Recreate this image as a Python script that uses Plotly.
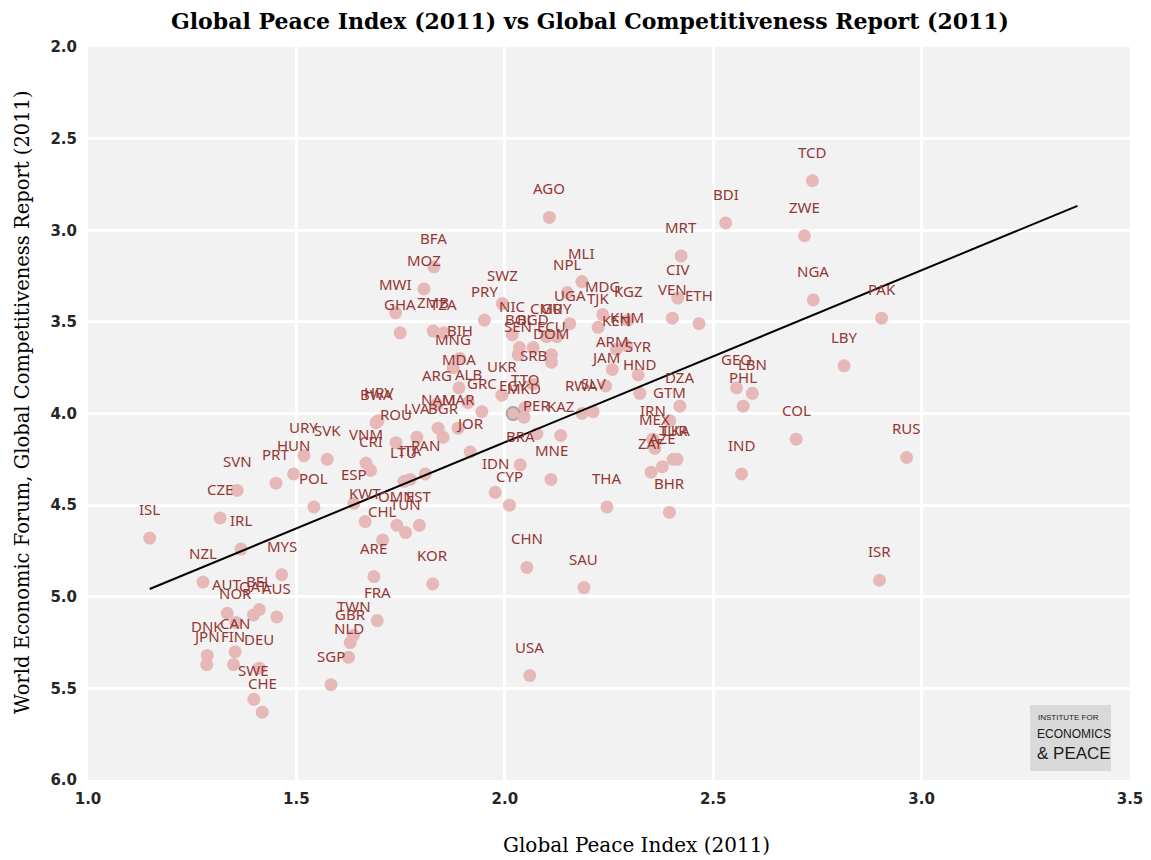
import numpy as np
import plotly.graph_objects as go

countries = ["ISL","SVN","CZE","IRL","NZL","MYS","AUT","QAT","BEL","AUS","NOR","DNK","JPN","CAN","FIN","DEU","SWE","CHE",
             "URY","SVK","HUN","PRT","POL","VNM","CRI","ROU","HRV","BWA","LVA","BGR","NAM","MAR","JOR","LTU","ITA","PAN",
             "ESP","KWT","OMN","EST","TUN","CHL","ARE","KOR","FRA","TWN","GBR","NLD","SGP",
             "BFA","MOZ","MWI","GHA","ZMB","TZA","PRY","SWZ","BIH","MNG","MDA","ARG","ALB","GRC","UKR",
             "AGO","MLI","NPL","MDG","KGZ","UGA","TJK","NIC","CMR","GUY","BOL","BGD","ECU","SEN","DOM","SRB",
             "KEN","KHM","ARM","SYR","JAM","HND","DZA","GTM","TTO","EGY","MKD","RWA","SLV","PER","KAZ",
             "BRA","IDN","CYP","MNE","THA","IRN","MEX","ZAF","AZE","TUR","LKA","BHR",
             "GEO","LBN","PHL","IND","COL","LBY","RUS","ISR","PAK","TCD","BDI","ZWE","NGA","MRT","CIV","VEN","ETH",
             "CHN","SAU","USA"]

gpi = [1.148,1.358,1.317,1.367,1.276,1.465,1.334,1.397,1.411,1.453,1.355,1.286,1.285,1.353,1.349,1.411,1.398,1.418,
       1.518,1.574,1.493,1.451,1.542,1.667,1.678,1.739,1.696,1.691,1.789,1.852,1.840,1.888,1.917,1.758,1.773,1.809,
       1.638,1.665,1.741,1.795,1.762,1.707,1.686,1.827,1.694,1.637,1.629,1.625,1.583,
       1.830,1.806,1.738,1.749,1.828,1.854,1.951,1.994,1.892,1.876,1.890,1.837,1.912,1.945,1.993,
       2.107,2.185,2.150,2.235,2.296,2.156,2.224,2.018,2.100,2.125,2.035,2.068,2.112,2.032,2.112,2.068,
       2.268,2.292,2.258,2.320,2.242,2.324,2.420,2.396,2.048,2.020,2.046,2.185,2.212,2.077,2.134,
       2.037,1.977,2.011,2.111,2.245,2.355,2.360,2.351,2.378,2.404,2.413,2.395,
       2.556,2.594,2.572,2.568,2.699,2.814,2.964,2.899,2.904,2.738,2.530,2.719,2.740,2.423,2.415,2.402,2.466,
       2.053,2.190,2.060]

gci = [4.68,4.42,4.57,4.74,4.92,4.88,5.09,5.10,5.07,5.11,5.14,5.32,5.37,5.30,5.37,5.39,5.56,5.63,
       4.23,4.25,4.33,4.38,4.51,4.27,4.31,4.16,4.04,4.05,4.13,4.13,4.08,4.08,4.21,4.37,4.36,4.33,
       4.49,4.59,4.61,4.61,4.65,4.69,4.89,4.93,5.13,5.21,5.25,5.33,5.48,
       3.20,3.32,3.45,3.56,3.55,3.56,3.49,3.40,3.70,3.75,3.86,3.95,3.94,3.99,3.90,
       2.93,3.28,3.34,3.46,3.49,3.51,3.53,3.57,3.58,3.58,3.64,3.64,3.68,3.68,3.72,3.84,
       3.65,3.63,3.76,3.79,3.85,3.89,3.96,4.04,3.97,4.00,4.02,4.00,3.99,4.11,4.12,
       4.28,4.43,4.50,4.36,4.51,4.14,4.19,4.32,4.29,4.25,4.25,4.54,
       3.86,3.89,3.96,4.33,4.14,3.74,4.24,4.91,3.48,2.73,2.96,3.03,3.38,3.14,3.37,3.48,3.51,
       4.84,4.95,5.43]

x_tick_vals = [1.0, 1.5, 2.0, 2.5, 3.0, 3.5]
y_tick_vals = [2.0, 2.5, 3.0, 3.5, 4.0, 4.5, 5.0, 5.5, 6.0]
highlighted = ["EGY"]

title_text = "Global Peace Index (2011) vs Global Competitiveness Report (2011)"
x_title = "Global Peace Index (2011)"
y_title = "World Economic Forum, Global Competitiveness Report (2011)"

MARKER = "#E6B9B8"
LABEL = "#953735"
SERIF = "DejaVu Serif"

slope, intercept = np.polyfit(gpi, gci, 1)
x_line = np.array([min(gpi), max(gpi) + 0.41])
y_line = intercept + slope * x_line

line_cols = ["#A6A6A6" if c in highlighted else MARKER for c in countries]
line_w = [2 if c in highlighted else 0 for c in countries]

W, H = 1143, 852          # page has an 8px body margin
L, R, T, B = 80, 21, 39, 80


def px(xp):   # page pixel -> paper x
    return (xp - 88) / 1042


def py(yp):   # page pixel -> paper y
    return (780 - yp) / 733


fig = go.Figure()
fig.add_trace(go.Scatter(
    x=gpi, y=gci, mode="markers",
    marker=dict(size=13, color=MARKER, line=dict(color=line_cols, width=line_w)),
    hoverinfo="text", text=countries, showlegend=False))
fig.add_trace(go.Scatter(x=x_line, y=y_line, mode="lines",
                         line=dict(color="black", width=2), showlegend=False, hoverinfo="skip"))

for c, xv, yv in zip(countries, gpi, gci):
    fig.add_annotation(x=xv, y=yv, text=c, showarrow=False, yshift=29,
                       font=dict(family="Noto Sans", size=15, color=LABEL))

tick_font = dict(family="DejaVu Sans", size=15, color="#262626", weight="bold")
fig.update_layout(
    width=W, height=H,
    paper_bgcolor="white", plot_bgcolor="#F2F2F2",
    margin=dict(l=L, r=R, t=T, b=B, autoexpand=False),
    title=dict(text="<b>" + title_text + "</b>", x=(590 - 8) / W, xanchor="center",
               y=1 - (21 - 8) / H, yanchor="middle",
               font=dict(family=SERIF, size=22, color="black")),
    xaxis=dict(range=[1.0, 3.5], tickvals=x_tick_vals, ticktext=[f"{v:.1f}" for v in x_tick_vals],
               showgrid=True, gridcolor="white", gridwidth=3, zeroline=False, showline=False,
               tickfont=tick_font, ticks="", ticklabelstandoff=8, automargin=False),
    yaxis=dict(range=[6.0, 2.0], tickvals=y_tick_vals, ticktext=[f"{v:.1f}" for v in y_tick_vals],
               showgrid=True, gridcolor="white", gridwidth=3, zeroline=False, showline=False,
               tickfont=tick_font, ticks="", ticklabelstandoff=10, automargin=False),
)

fig.add_annotation(xref="paper", yref="paper", x=px(636), y=py(845), text=x_title,
                   showarrow=False, xanchor="center", yanchor="middle",
                   font=dict(family=SERIF, size=20, color="black"))
fig.add_annotation(xref="paper", yref="paper", x=px(22), y=py(402), text=y_title,
                   showarrow=False, xanchor="center", yanchor="middle", textangle=-90,
                   font=dict(family=SERIF, size=19.5, color="black"))

# logo
fig.add_shape(type="rect", xref="paper", yref="paper",
              x0=px(1030), x1=px(1111), y0=py(771), y1=py(705),
              fillcolor="#D9D9D9", line=dict(width=0))
fig.add_annotation(xref="paper", yref="paper", x=px(1036), y=py(717), text="INSTITUTE FOR",
                   showarrow=False, xanchor="left", yanchor="middle",
                   font=dict(family="Liberation Sans", size=8, color="#1a1a1a"))
fig.add_annotation(xref="paper", yref="paper", x=px(1035), y=py(734), text="ECONOMICS",
                   showarrow=False, xanchor="left", yanchor="middle",
                   font=dict(family="Liberation Sans", size=12, color="#1a1a1a"))
fig.add_annotation(xref="paper", yref="paper", x=px(1035), y=py(753), text="&amp; PEACE",
                   showarrow=False, xanchor="left", yanchor="middle",
                   font=dict(family="Liberation Sans", size=17, color="#1a1a1a"))

fig.write_html("out.html")
